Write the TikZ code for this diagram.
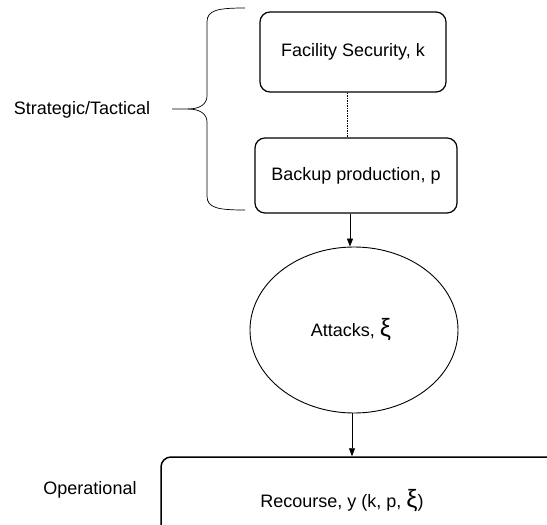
\documentclass[tikz,border=0pt]{standalone}
\usepackage{fontspec}
\setmainfont{Liberation Sans}
\usetikzlibrary{arrows.meta,shapes.geometric}

\newcommand{\bigxi}{{\fontsize{25}{25}\selectfont ξ}}

\begin{document}
\begin{tikzpicture}[
  x=1pt, y=-1pt,
  lbl/.style={font=\fontsize{18}{20}\selectfont, inner sep=0pt},
  box/.style={lbl, draw, line width=1.2pt, rounded corners=10pt},
  blob/.style={lbl, draw, ellipse, line width=0.9pt},
  arr/.style={-{Triangle[length=8pt,width=6pt]}, line width=0.8pt},
  link/.style={line width=0.6pt, dash pattern=on 1.5pt off 1pt},
]
\useasboundingbox (0,0) rectangle (547,525);

% ── strategic / tactical ──────────────────────────────
\node[box, minimum width=186pt, minimum height=80pt] (sec) at (353,52) {Facility Security, k};
\node[box, minimum width=202pt, minimum height=75pt] (bak) at (356,175.5) {Backup production, p};
\draw[link] ([xshift=-6pt]sec.south) -- ([xshift=-6pt]sec.south |- bak.north);

\node[lbl] (strat) at (82,110) {Strategic/Tactical};
\coordinate (tip) at (172,109);
\draw[line width=0.7pt]
  (245,8) .. controls (218,8) and (207,10) .. (207,22)
  -- (207,96) .. controls (207,104) and (200,109) .. (188,109)
  -- (tip);
\draw[line width=0.7pt]
  (188,109) .. controls (200,109) and (207,114) .. (207,122)
  -- (207,196) .. controls (207,208) and (218,210) .. (245,210);

% ── attacks ───────────────────────────────────────────
\node[blob, minimum width=208pt, minimum height=166pt] (att) at (354,330) {\hspace{-6pt}Attacks, \bigxi};
\draw[arr] ([xshift=-6pt]bak.south) -- ([xshift=-4pt]att.north);

% ── operational ───────────────────────────────────────
\node[box, line width=1.5pt, minimum width=420pt, minimum height=90pt] (rec) at (371,502) {};
\node[lbl] (rectxt) at (342,501) {Recourse, y (k, p, \bigxi)};
\node[lbl] (oper) at (90,490) {Operational};
\draw[arr] ([xshift=-2pt]att.south) -- ([xshift=-2pt]att.south |- rec.north);

\end{tikzpicture}
\end{document}
